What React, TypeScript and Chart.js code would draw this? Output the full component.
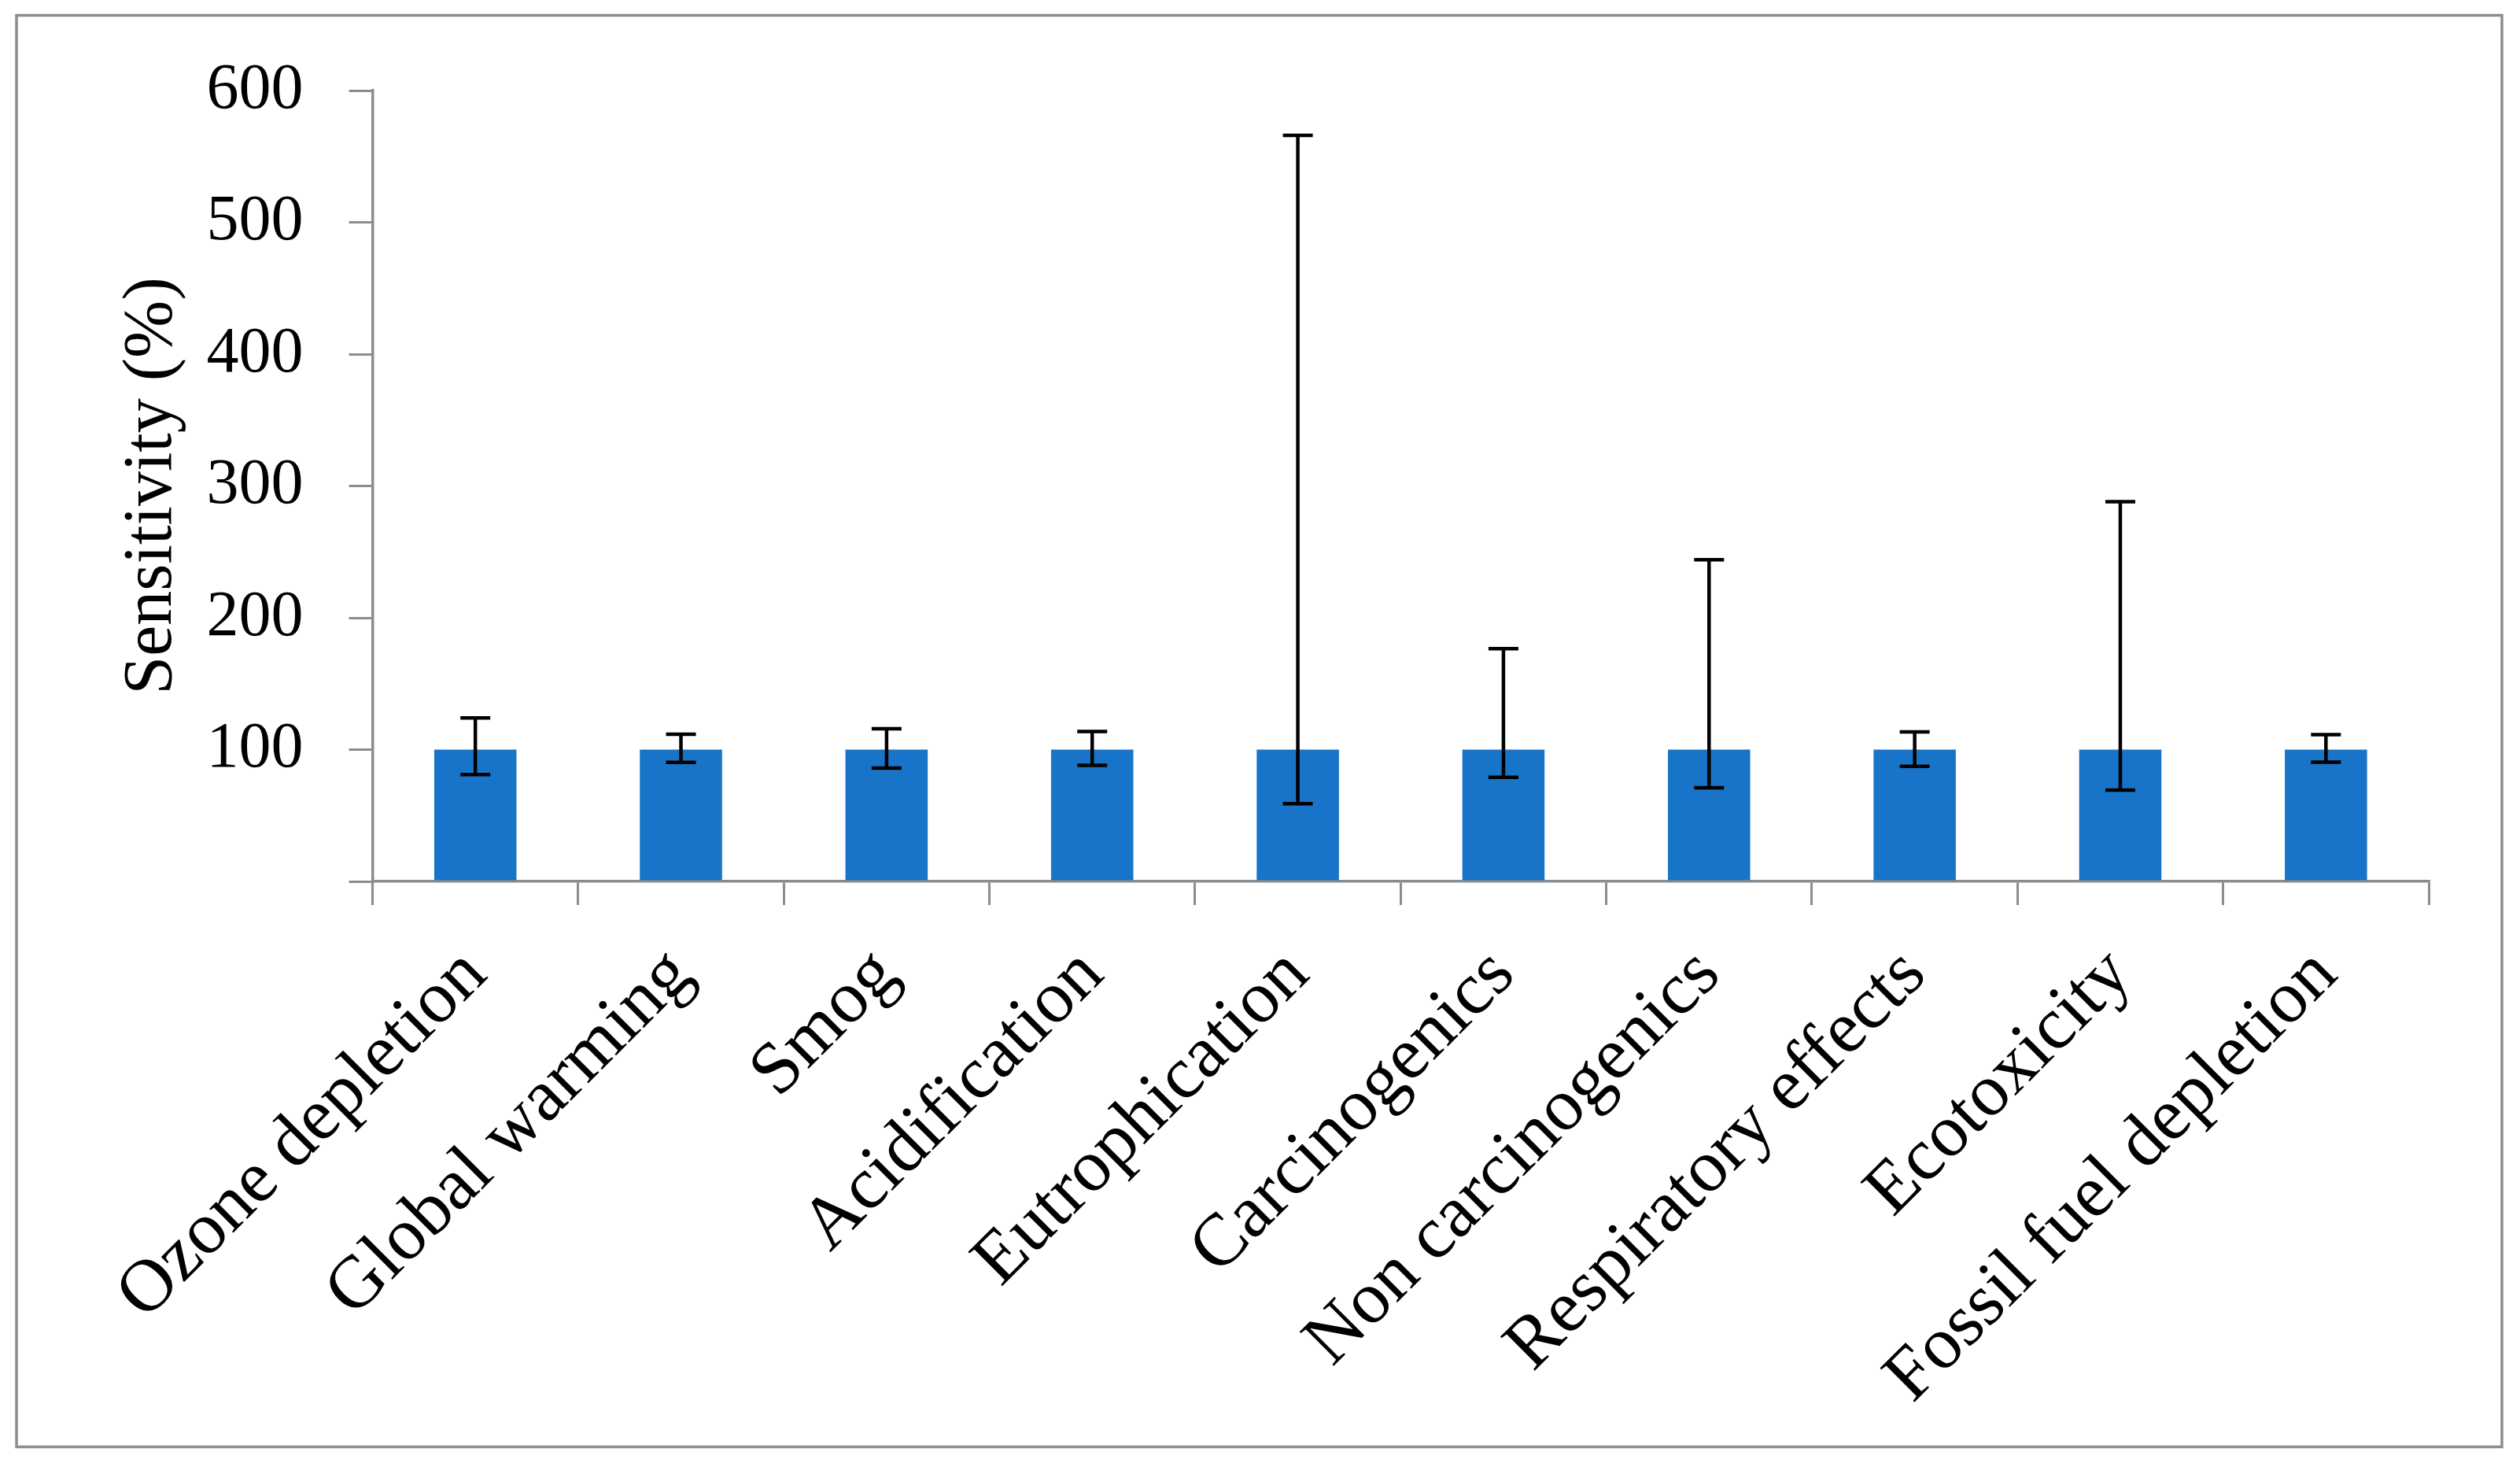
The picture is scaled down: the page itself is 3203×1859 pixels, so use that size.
import React, { useEffect, useRef } from "react";
import { Chart, registerables } from "chart.js";

Chart.register(...registerables);

const categories = [
  "Ozone depletion",
  "Global warming",
  "Smog",
  "Acidification",
  "Eutrophication",
  "Carcinogenics",
  "Non carcinogenics",
  "Respiratory effects",
  "Ecotoxicity",
  "Fossil fuel depletion",
];
const sensitivity = [100, 100, 100, 100, 100, 100, 100, 100, 100, 100];
const errorHigh = [124, 111.7, 115.8, 113.8, 566, 176.5, 244, 113.5, 288, 111.3];
const errorLow = [81, 90.3, 86, 88, 59, 79, 71, 87.3, 69.3, 90.4];
const yTicks = [0, 100, 200, 300, 400, 500, 600];

const GRAY = "#8c8c8c";
const BAR = "#1874c8";
const FONT = "'Liberation Serif', 'Times New Roman', serif";

const errorBarPlugin = {
  id: "errorBars",
  afterDatasetsDraw(chart: any) {
    const { ctx, scales } = chart;
    const x = scales.x;
    const y = scales.y;
    ctx.save();
    ctx.strokeStyle = "#000";
    ctx.lineWidth = 4.5;
    const cap = 19;
    categories.forEach((_c, i) => {
      const px = x.getPixelForValue(i);
      const top = y.getPixelForValue(errorHigh[i]);
      const bot = y.getPixelForValue(errorLow[i]);
      ctx.beginPath();
      ctx.moveTo(px, top);
      ctx.lineTo(px, bot);
      ctx.moveTo(px - cap, top);
      ctx.lineTo(px + cap, top);
      ctx.moveTo(px - cap, bot);
      ctx.lineTo(px + cap, bot);
      ctx.stroke();
    });
    ctx.restore();
  },
};

const framePlugin = {
  id: "frame",
  beforeDraw(chart: any) {
    const { ctx } = chart;
    ctx.save();
    ctx.fillStyle = "#ffffff";
    ctx.fillRect(0, 0, chart.width, chart.height);
    ctx.strokeStyle = GRAY;
    ctx.lineWidth = 3.5;
    ctx.strokeRect(21, 19.5, chart.width - 21 - 23, chart.height - 19.5 - 20.5);
    ctx.restore();
  },
};

export default function App() {
  const ref = useRef<HTMLCanvasElement | null>(null);
  useEffect(() => {
    if (!ref.current) return;
    const chart = new Chart(ref.current, {
      type: "bar",
      data: {
        labels: categories,
        datasets: [
          {
            data: sensitivity,
            backgroundColor: BAR,
            borderWidth: 0,
            barPercentage: 0.4,
            categoryPercentage: 1.0,
          },
        ],
      },
      options: {
        animation: false,
        responsive: false,
        devicePixelRatio: 1,
        layout: { padding: { left: 0, right: 116, top: 115, bottom: 20 } },
        plugins: {
          legend: { display: false },
          tooltip: { enabled: false },
        },
        scales: {
          x: {
            offset: true,
            grid: {
              offset: true,
              drawOnChartArea: false,
              drawTicks: true,
              tickLength: 30,
              color: GRAY,
              lineWidth: 3,
            },
            border: { display: true, color: GRAY, width: 3.5 },
            ticks: {
              autoSkip: false,
              maxRotation: 45,
              minRotation: 45,
              padding: 34,
              color: "#000",
              font: { family: FONT, size: 94 },
            },
            afterFit(scale: any) {
              scale.height = 719;
            },
          },
          y: {
            min: 0,
            max: 600,
            afterBuildTicks(scale: any) {
              scale.ticks = yTicks.map((v) => ({ value: v }));
            },
            grid: {
              drawOnChartArea: false,
              drawTicks: true,
              tickLength: 30,
              color: GRAY,
              lineWidth: 3,
            },
            border: { display: true, color: GRAY, width: 3.5 },
            ticks: {
              padding: 58,
              color: "#000",
              font: { family: FONT, size: 82 },
              callback: (v: any) => (Number(v) === 0 ? "" : String(v)),
            },
            title: {
              display: true,
              text: "Sensitivity (%)",
              color: "#000",
              font: { family: FONT, size: 88 },
              padding: { top: 141, bottom: 0 },
            },
            afterFit(scale: any) {
              scale.width = 473.5;
            },
          },
        },
      },
      plugins: [framePlugin, errorBarPlugin],
    });
    return () => chart.destroy();
  }, []);
  return (
    <div style={{ position: "fixed", left: 0, top: 0, width: 3203, height: 1859 }}>
      <canvas ref={ref} width={3203} height={1859} style={{ display: "block", width: 3203, height: 1859 }} />
    </div>
  );
}
